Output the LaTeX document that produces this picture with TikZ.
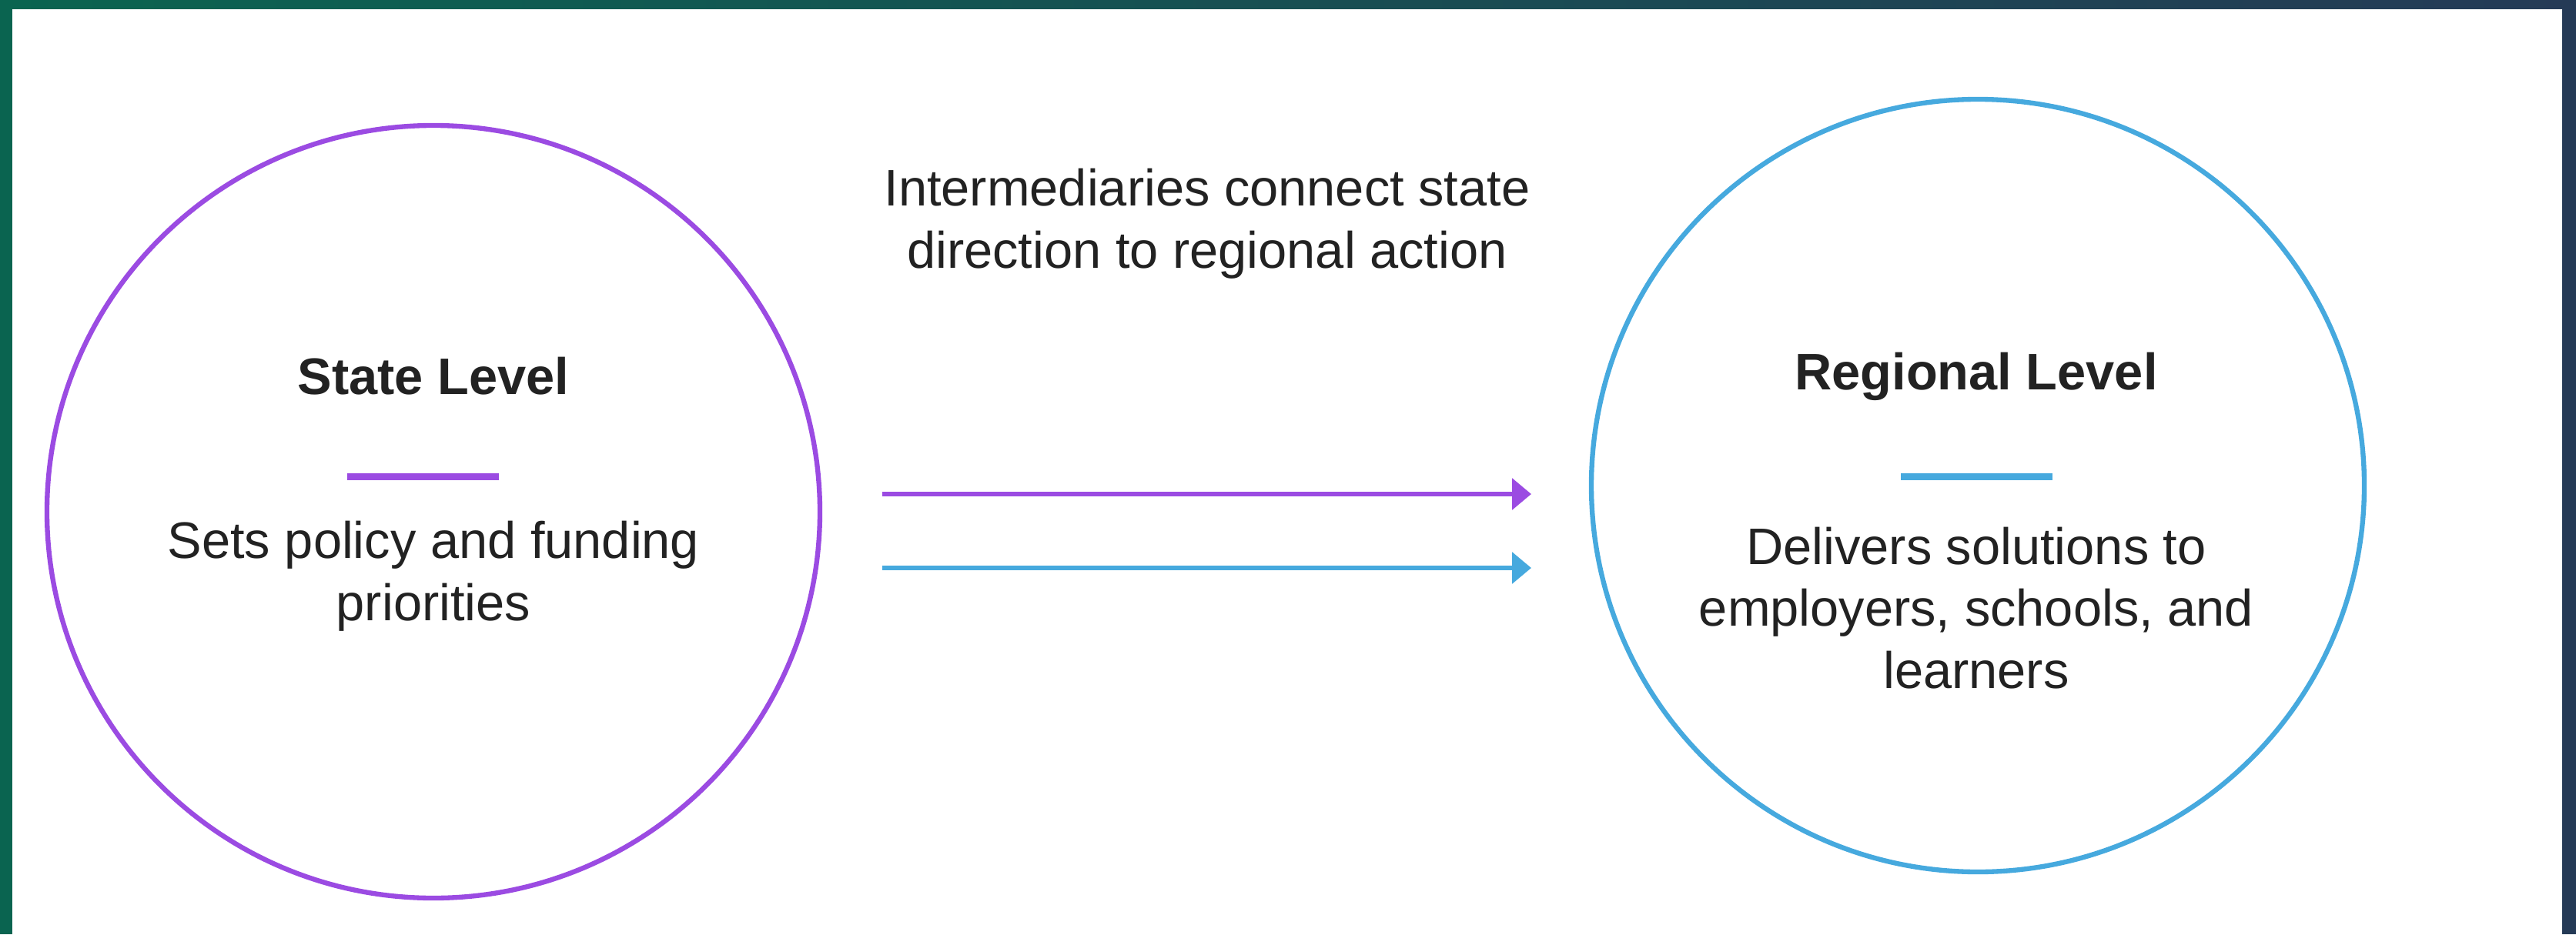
\documentclass[tikz,border=0pt]{standalone}
\usepackage{fontspec}
\setmainfont{Liberation Sans}
\usetikzlibrary{arrows.meta,positioning}
\definecolor{framegreen}{HTML}{0A6450}
\definecolor{framenavy}{HTML}{253A56}
\definecolor{statepurple}{HTML}{9B4BE2}
\definecolor{regionblue}{HTML}{46A9DE}
\definecolor{ink}{HTML}{222222}

\begin{document}
\begin{tikzpicture}[
    level/.style={circle, draw, line width=1.8pt, minimum size=10.04cm, inner sep=0pt},
    heading/.style={font=\fontsize{19}{23}\selectfont\bfseries, text=ink},
    blurb/.style={font=\fontsize{19}{23}\selectfont, text=ink, align=center},
    bar/.style={minimum width=1.97cm, minimum height=0.09cm, inner sep=0pt},
    flow/.style={-{Triangle[length=0.25cm,width=0.4cm]}, line width=1.8pt}
]
    \useasboundingbox (0,0) rectangle (33.46,12.14);
    % Frame
    \fill[framegreen] (0,0) rectangle (0.16,12.14);
    \fill[framenavy] (33.28,0) rectangle (33.46,12.14);
    \shade[left color=framegreen, right color=framenavy] (0,12.02) rectangle (33.46,12.14);

    % Levels
    \node[level, draw=statepurple] (state) at (5.63,5.49) {};
    \node[level, draw=regionblue] (region) at (25.69,5.83) {};

    \node[heading] (statehead) at (5.63,7.25) {State Level};
    \node[bar, fill=statepurple] (statebar) at (5.49,5.95) {};
    \node[blurb] (stateblurb) at (5.63,4.65) {Sets policy and funding\\priorities};

    \node[heading] (regionhead) at (25.67,7.25) {Regional Level};
    \node[bar, fill=regionblue] (regionbar) at (25.67,5.95) {};
    \node[blurb] (regionblurb) at (25.67,4.24) {Delivers solutions to\\employers, schools, and\\learners};

    % Middle
    \node[blurb] (link) at (15.68,9.23) {Intermediaries connect state\\direction to regional action};
    \foreach \n/\y/\c in {top/5.72/statepurple, low/4.76/regionblue} {
        \coordinate (\n s) at (11.46,\y);
        \coordinate (\n e) at (19.89,\y);
        \draw[flow, \c] (\n s) -- (\n e);
    }
\end{tikzpicture}
\end{document}
